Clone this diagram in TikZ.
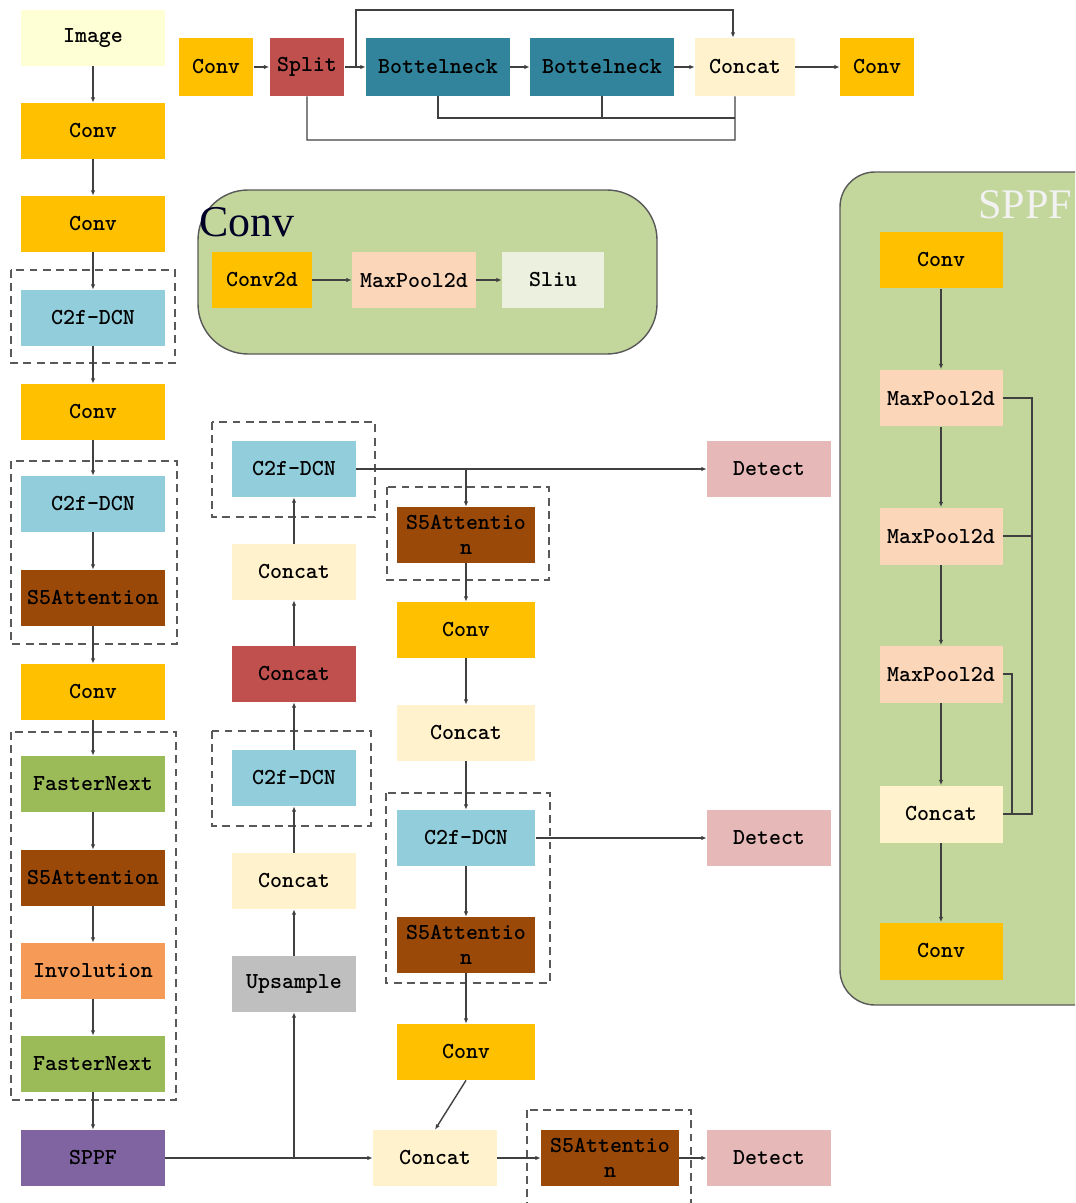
\documentclass[tikz,border=0pt]{standalone}
\usepackage{fontspec}
\setmainfont{Liberation Serif}
\usetikzlibrary{arrows.meta}

\definecolor{convY}{HTML}{FFC000}
\definecolor{imgY}{HTML}{FFFFD5}
\definecolor{dcnB}{HTML}{92CDDC}
\definecolor{attB}{HTML}{9A4909}
\definecolor{fastG}{HTML}{9BBB59}
\definecolor{invO}{HTML}{F69B57}
\definecolor{sppfP}{HTML}{8064A2}
\definecolor{catY}{HTML}{FFF2CC}
\definecolor{catR}{HTML}{C0504D}
\definecolor{bnT}{HTML}{31849B}
\definecolor{upsG}{HTML}{BFBFBF}
\definecolor{detP}{HTML}{E6B9B8}
\definecolor{poolP}{HTML}{FBD6B9}
\definecolor{sliuG}{HTML}{EBF1DE}
\definecolor{bgG}{HTML}{C3D69B}
\definecolor{lineK}{HTML}{404040}

\tikzset{
  blk/.style={rectangle, inner sep=0pt, minimum height=1.12cm, align=center,
    font=\ttfamily\bfseries\fontsize{13}{14}\selectfont},
  wide/.style={blk, minimum width=2.88cm},
  mid/.style={blk, minimum width=2.48cm},
  rgt/.style={blk, minimum width=2.78cm},
  arr/.style={lineK, line width=0.8pt, -{Latex[length=3pt,width=2.5pt]}},
  ln/.style={lineK, line width=0.8pt},
  dbox/.style={draw=black!65, line width=1.1pt, dash pattern=on 4.5pt off 3pt},
  gbox/.style={fill=bgG, draw=black!65, line width=0.8pt}
}

\begin{document}
\begin{tikzpicture}[x=0.02cm, y=-0.02cm]
    \useasboundingbox (0,0) rectangle (1075,1203);
    \clip (0,0) rectangle (1075,1203);

    % containers
    \draw[gbox, rounded corners=1cm] (198,190) rectangle (657,354);
    \draw[gbox, rounded corners=0.7cm] (840,172) rectangle (1110,1005);
    \node[anchor=base west, inner sep=0pt, text=black!85!blue, font=\fontsize{25}{25}\selectfont] (convtitle) at (199,236) {Conv};
    \node[anchor=base west, inner sep=0pt, text=white!95!black, font=\fontsize{24}{24}\selectfont] (sppftitle) at (978,218) {SPPF};

    % backbone
    \node[wide, fill=imgY] (img) at (93,38) {Image};
    \node[wide, fill=convY] (c1) at (93,131) {Conv};
    \node[wide, fill=convY] (c2) at (93,224) {Conv};
    \node[wide, fill=dcnB] (d1) at (93,318) {C2f-DCN};
    \node[wide, fill=convY] (c3) at (93,412) {Conv};
    \node[wide, fill=dcnB] (d2) at (93,504) {C2f-DCN};
    \node[wide, fill=attB] (s1) at (93,598) {S5Attention};
    \node[wide, fill=convY] (c4) at (93,692) {Conv};
    \node[wide, fill=fastG] (f1) at (93,784) {FasterNext};
    \node[wide, fill=attB] (s2) at (93,878) {S5Attention};
    \node[wide, fill=invO] (inv) at (93,971) {Involution};
    \node[wide, fill=fastG] (f2) at (93,1064) {FasterNext};
    \node[wide, fill=sppfP] (sppf) at (93,1158) {SPPF};

    \draw[dbox] (11,270) rectangle (175,363);
    \draw[dbox] (11,461) rectangle (177,644);
    \draw[dbox] (11,732) rectangle (176,1100);

    \foreach \a/\b in {img/c1,c1/c2,c2/d1,d1/c3,c3/d2,d2/s1,s1/c4,c4/f1,f1/s2,s2/inv,inv/f2,f2/sppf}
        \draw[arr] (\a) -- (\b);

    % bottleneck block on top
    \node[blk, minimum width=1.5cm, minimum height=1.16cm, fill=convY] (tc1) at (216,67) {Conv};
    \node[blk, minimum width=1.5cm, minimum height=1.16cm, fill=catR] (spl) at (307,67) {Split};
    \node[wide, minimum height=1.16cm, fill=bnT] (bn1) at (438,67) {Bottelneck};
    \node[wide, minimum height=1.16cm, fill=bnT] (bn2) at (602,67) {Bottelneck};
    \node[blk, minimum width=2cm, minimum height=1.16cm, fill=catY] (tcat) at (745,67) {Concat};
    \node[blk, minimum width=1.48cm, minimum height=1.16cm, fill=convY] (tc2) at (877,67) {Conv};

    \foreach \a/\b in {tc1/spl,spl/bn1,bn1/bn2,bn2/tcat,tcat/tc2}
        \draw[arr] (\a) -- (\b);
    \coordinate (tl) at (356,67);
    \coordinate (lo) at (735,140);
    \coordinate (mi) at (735,118);
    \draw[arr] (tl) -- ++(0,-57) -| ([xshift=-0.24cm]tcat.north);
    \draw[ln] (spl.south) |- (lo) -- ([xshift=-0.2cm]tcat.south);
    \draw[ln] (bn1.south) |- (mi);
    \draw[ln] (bn2.south) |- (mi);

    % conv block
    \node[blk, minimum width=2cm, fill=convY] (cv2d) at (262,280) {Conv2d};
    \node[blk, minimum width=2.48cm, fill=poolP] (mp) at (414,280) {MaxPool2d};
    \node[blk, minimum width=2.04cm, fill=sliuG] (sl) at (553,280) {Sliu};
    \draw[arr] (cv2d) -- (mp);
    \draw[arr] (mp) -- (sl);

    % sppf block
    \node[blk, minimum width=2.46cm, minimum height=1.14cm, fill=convY] (sc1) at (941,260) {Conv};
    \node[blk, minimum width=2.46cm, minimum height=1.14cm, fill=poolP] (mp1) at (941,398) {MaxPool2d};
    \node[blk, minimum width=2.46cm, minimum height=1.14cm, fill=poolP] (mp2) at (941,536) {MaxPool2d};
    \node[blk, minimum width=2.46cm, minimum height=1.14cm, fill=poolP] (mp3) at (941,674) {MaxPool2d};
    \node[blk, minimum width=2.46cm, minimum height=1.14cm, fill=catY] (scat) at (941,814) {Concat};
    \node[blk, minimum width=2.46cm, minimum height=1.14cm, fill=convY] (sc2) at (941,951) {Conv};
    \foreach \a/\b in {sc1/mp1,mp1/mp2,mp2/mp3,mp3/scat,scat/sc2}
        \draw[arr] (\a) -- (\b);
    \draw[ln] (mp1.east) -- ++(0.58cm,0) |- (scat.east);
    \draw[ln] (mp2.east) -- ++(0.58cm,0);
    \draw[ln] (mp3.east) -- ++(0.18cm,0) |- (scat.east);

    % neck
    \node[mid, fill=dcnB] (d3) at (294,469) {C2f-DCN};
    \node[mid, fill=catY] (cat2) at (294,572) {Concat};
    \node[mid, fill=catR] (cat3) at (294,674) {Concat};
    \node[mid, fill=dcnB] (d4) at (294,778) {C2f-DCN};
    \node[mid, fill=catY] (cat4) at (294,881) {Concat};
    \node[mid, fill=upsG] (ups) at (294,984) {Upsample};
    \draw[dbox] (212,422) rectangle (375,517);
    \draw[dbox] (212,731) rectangle (371,826);
    \foreach \a/\b in {ups/cat4,cat4/d4,d4/cat3,cat3/cat2,cat2/d3}
        \draw[arr] (\a) -- (\b);

    \node[rgt, fill=attB] (s3) at (466,535) {S5Attentio\\n};
    \node[rgt, fill=convY] (c5) at (466,630) {Conv};
    \node[rgt, fill=catY] (cat6) at (466,733) {Concat};
    \node[rgt, fill=dcnB] (d5) at (466,838) {C2f-DCN};
    \node[rgt, fill=attB] (s4) at (466,945) {S5Attentio\\n};
    \node[rgt, fill=convY] (c6) at (466,1052) {Conv};
    \draw[dbox] (387,487) rectangle (549,580);
    \draw[dbox] (386,793) rectangle (550,983);
    \foreach \a/\b in {s3/c5,c5/cat6,cat6/d5,d5/s4,s4/c6}
        \draw[arr] (\a) -- (\b);

    \node[mid, fill=catY] (cat5) at (435,1158) {Concat};
    \node[rgt, minimum width=2.76cm, fill=attB] (s5) at (610,1158) {S5Attentio\\n};
    \draw[dbox] (527,1110) rectangle (691,1215);

    % heads
    \node[mid, fill=detP] (det1) at (769,469) {Detect};
    \node[mid, fill=detP] (det2) at (769,838) {Detect};
    \node[mid, fill=detP] (det3) at (769,1158) {Detect};

    \coordinate (jb) at (466,469);
    \coordinate (jn) at (294,1158);
    \draw[arr] (d3) -- (det1);
    \draw[arr] (jb) -- (s3);
    \draw[arr] (d5) -- (det2);
    \draw[arr] (sppf) -- (cat5);
    \draw[arr] (jn) -- (ups);
    \draw[arr] (c6.south) -- (cat5.north);
    \draw[arr] (cat5) -- (s5);
    \draw[arr] (s5) -- (det3);
\end{tikzpicture}
\end{document}
